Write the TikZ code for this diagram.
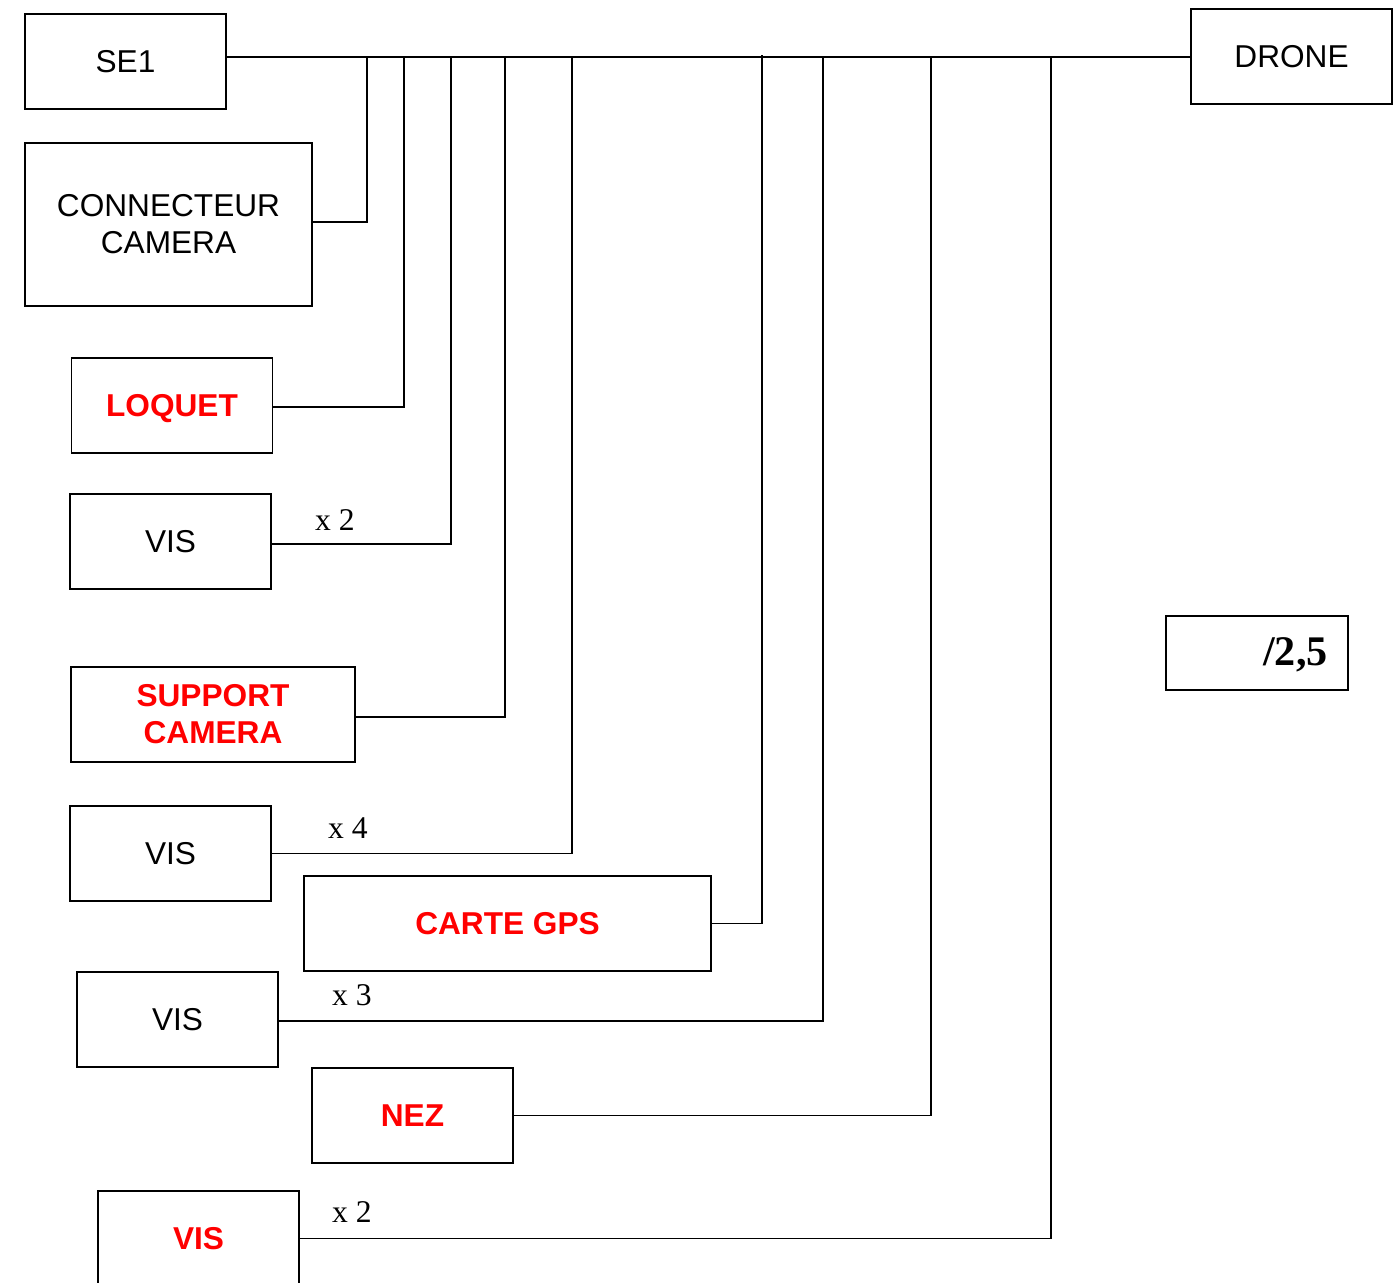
\documentclass[tikz,border=0pt]{standalone}
\usepackage{fontspec}
\setmainfont{Liberation Serif}
\setsansfont{Liberation Sans}
\usepackage{xcolor}
\usetikzlibrary{positioning}
\definecolor{rouge}{HTML}{FF0000}
\tikzset{
  bloc/.style={
    rectangle,
    draw=black,
    line width=1.1pt,
    minimum width=4.02cm,
    minimum height=1.9cm,
    inner sep=0pt,
    outer sep=0pt,
    align=center,
    font=\sffamily\fontsize{18}{21}\selectfont
  },
  blocrouge/.style={
    bloc,
    text=rouge,
    font=\sffamily\bfseries\fontsize{18}{21}\selectfont
  },
  nombre/.style={
    font=\rmfamily\fontsize{18}{20}\selectfont,
    inner sep=0pt
  },
  lien/.style={line width=1.1pt, draw=black}
}

\begin{document}
\begin{tikzpicture}[x=0.02cm, y=-0.02cm]
\useasboundingbox (0,0) rectangle (1398,1283);

\node[bloc] (se1) at (125.5,61.5) {SE1};
\node[bloc] (drone) at (1291.5,56.5) {DRONE};
\node[bloc, minimum width=5.74cm, minimum height=3.26cm] (connecteur) at (168.5,224.5) {CONNECTEUR\\CAMERA};
\node[blocrouge] (loquet) at (172,405.5) {\raisebox{0pt}[\height][0pt]{LOQUET}};
\node[bloc] (vis1) at (170.5,541.5) {VIS};
\node[blocrouge, minimum width=5.68cm] (support) at (213,714.5) {SUPPORT\\CAMERA};
\node[bloc] (vis2) at (170.5,853.5) {VIS};
\node[blocrouge, minimum width=8.14cm] (gps) at (507.5,923.5) {CARTE GPS};
\node[bloc] (vis3) at (177.5,1019.5) {VIS};
\node[blocrouge] (nez) at (412.5,1115.5) {NEZ};
\node[blocrouge] (vis4) at (198.5,1238.5) {VIS};

% note
\node[bloc, minimum width=3.64cm, minimum height=1.48cm] (note) at (1257,653) {};
\node[anchor=east, inner sep=0pt, font=\rmfamily\bfseries\fontsize{24}{26}\selectfont] (bareme) at (1328,655) {/2,5};

% bus
\coordinate (b1) at (367,57);
\coordinate (b2) at (404,57);
\coordinate (b3) at (451,57);
\coordinate (b4) at (505,57);
\coordinate (b5) at (572,57);
\coordinate (b6) at (762,55);
\coordinate (b7) at (823,57);
\coordinate (b8) at (931,57);
\coordinate (b9) at (1051,57);

\draw[lien] (se1.east |- b9) -- (drone.west |- b9);

\draw[lien] ([yshift=0.05cm]connecteur.east) -| (b1);
\draw[lien] ([yshift=-0.03cm]loquet.east) -| (b2);
\draw[lien] ([yshift=-0.05cm]vis1.east) -| (b3);
\draw[lien] ([yshift=-0.05cm]support.east) -| (b4);
\draw[lien] (vis2.east) -| (b5);
\draw[lien] (gps.east) -| (b6);
\draw[lien] ([yshift=-0.03cm]vis3.east) -| (b7);
\draw[lien] (nez.east) -| (b8);
\draw[lien] (vis4.east) -| (b9);

\node[nombre] (n1) at (335,520) {x 2};
\node[nombre] (n2) at (348,828) {x 4};
\node[nombre] (n3) at (352,995) {x 3};
\node[nombre] (n4) at (352,1212) {x 2};

\end{tikzpicture}
\end{document}
